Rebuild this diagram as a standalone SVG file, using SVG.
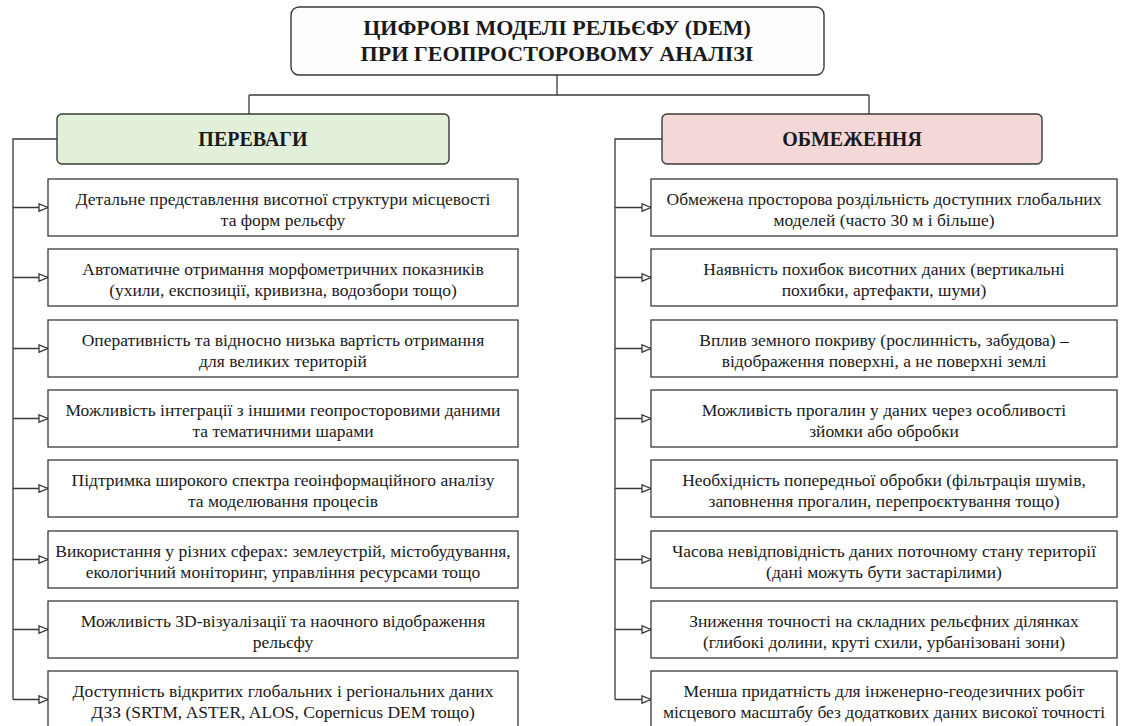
<svg xmlns="http://www.w3.org/2000/svg" width="1125" height="726" viewBox="0 0 1125 726">
<defs>
<style>
.bg{fill:#ffffff}
.title{fill:#fdfdfd;stroke:#3a3a3a;stroke-width:1.4}
.green{fill:#e2efd9;stroke:#3a3a3a;stroke-width:1.4}
.pink{fill:#f4d8d7;stroke:#3a3a3a;stroke-width:1.4}
.item{fill:#ffffff;stroke:#3a3a3a;stroke-width:1.3}
.ln{fill:none;stroke:#3a3a3a;stroke-width:1.3}
.arr{fill:none;stroke:#3a3a3a;stroke-width:1.3;marker-end:url(#tri)}
text{fill:#1a1a1a;text-anchor:middle}
.tt{font-size:22px;font-weight:bold}
.hd{font-size:20px;font-weight:bold}
.tx{font-size:17.5px}
</style>
<marker id="tri" markerUnits="userSpaceOnUse" markerWidth="11" markerHeight="10" refX="10" refY="4.5" orient="auto">
<path d="M1,0.8 L10,4.5 L1,8.2 Z" fill="#ffffff" stroke="#3a3a3a" stroke-width="1.3"/>
</marker>
</defs>
<rect class="bg" x="0" y="0" width="1125" height="726"/>

<g id="connectors">
<path class="ln" d="M557,75 V95 M249,95 H869 M249,95 V114 M869,95 V114"/>
<path class="ln" d="M57,139 H13 V699.5"/>
<path class="ln" d="M662,139 H615 V699.5"/>
<path class="arr" d="M13,207.5 H48"/>
<path class="arr" d="M13,277.5 H48"/>
<path class="arr" d="M13,348.5 H48"/>
<path class="arr" d="M13,418.5 H48"/>
<path class="arr" d="M13,488.5 H48"/>
<path class="arr" d="M13,559.5 H48"/>
<path class="arr" d="M13,629.5 H48"/>
<path class="arr" d="M13,699.5 H48"/>
<path class="arr" d="M615,207.5 H651"/>
<path class="arr" d="M615,277.5 H651"/>
<path class="arr" d="M615,348.5 H651"/>
<path class="arr" d="M615,418.5 H651"/>
<path class="arr" d="M615,488.5 H651"/>
<path class="arr" d="M615,559.5 H651"/>
<path class="arr" d="M615,629.5 H651"/>
<path class="arr" d="M615,699.5 H651"/>
</g>

<g font-family="'Liberation Serif', 'DejaVu Serif', 'Times New Roman', serif">
<g id="title">
<rect class="title" x="291" y="7" width="533" height="68" rx="8"/>
<text class="tt" x="557" y="35">ЦИФРОВІ МОДЕЛІ РЕЛЬЄФУ (DEM)</text>
<text class="tt" x="557" y="61">ПРИ ГЕОПРОСТОРОВОМУ АНАЛІЗІ</text>
</g>

<g id="advantages">
<rect class="green" x="57" y="114" width="392" height="50" rx="5"/>
<text class="hd" x="253" y="146">ПЕРЕВАГИ</text>
</g>
<g id="limitations">
<rect class="pink" x="662" y="114" width="380" height="50" rx="5"/>
<text class="hd" x="852" y="146">ОБМЕЖЕННЯ</text>
</g>

<g id="adv1"><rect class="item" x="48" y="179" width="470" height="57"/>
<text class="tx" x="283" y="205">Детальне представлення висотної структури місцевості</text><text class="tx" x="283" y="226">та форм рельєфу</text></g>
<g id="adv2"><rect class="item" x="48" y="249" width="470" height="57"/>
<text class="tx" x="283" y="275">Автоматичне отримання морфометричних показників</text><text class="tx" x="283" y="296">(ухили, експозиції, кривизна, водозбори тощо)</text></g>
<g id="adv3"><rect class="item" x="48" y="320" width="470" height="57"/>
<text class="tx" x="283" y="346">Оперативність та відносно низька вартість отримання</text><text class="tx" x="283" y="367">для великих територій</text></g>
<g id="adv4"><rect class="item" x="48" y="390" width="470" height="57"/>
<text class="tx" x="283" y="416">Можливість інтеграції з іншими геопросторовими даними</text><text class="tx" x="283" y="437">та тематичними шарами</text></g>
<g id="adv5"><rect class="item" x="48" y="460" width="470" height="57"/>
<text class="tx" x="283" y="486">Підтримка широкого спектра геоінформаційного аналізу</text><text class="tx" x="283" y="507">та моделювання процесів</text></g>
<g id="adv6"><rect class="item" x="48" y="531" width="470" height="57"/>
<text class="tx" x="283" y="557">Використання у різних сферах: землеустрій, містобудування,</text><text class="tx" x="283" y="578">екологічний моніторинг, управління ресурсами тощо</text></g>
<g id="adv7"><rect class="item" x="48" y="601" width="470" height="57"/>
<text class="tx" x="283" y="627">Можливість 3D-візуалізації та наочного відображення</text><text class="tx" x="283" y="648">рельєфу</text></g>
<g id="adv8"><rect class="item" x="48" y="671" width="470" height="57"/>
<text class="tx" x="283" y="697">Доступність відкритих глобальних і регіональних даних</text><text class="tx" x="283" y="718">ДЗЗ (SRTM, ASTER, ALOS, Copernicus DEM тощо)</text></g>

<g id="lim1"><rect class="item" x="651" y="179" width="466" height="57"/>
<text class="tx" x="884" y="205">Обмежена просторова роздільність доступних глобальних</text><text class="tx" x="884" y="226">моделей (часто 30 м і більше)</text></g>
<g id="lim2"><rect class="item" x="651" y="249" width="466" height="57"/>
<text class="tx" x="884" y="275">Наявність похибок висотних даних (вертикальні</text><text class="tx" x="884" y="296">похибки, артефакти, шуми)</text></g>
<g id="lim3"><rect class="item" x="651" y="320" width="466" height="57"/>
<text class="tx" x="884" y="346">Вплив земного покриву (рослинність, забудова) –</text><text class="tx" x="884" y="367">відображення поверхні, а не поверхні землі</text></g>
<g id="lim4"><rect class="item" x="651" y="390" width="466" height="57"/>
<text class="tx" x="884" y="416">Можливість прогалин у даних через особливості</text><text class="tx" x="884" y="437">зйомки або обробки</text></g>
<g id="lim5"><rect class="item" x="651" y="460" width="466" height="57"/>
<text class="tx" x="884" y="486">Необхідність попередньої обробки (фільтрація шумів,</text><text class="tx" x="884" y="507">заповнення прогалин, перепроєктування тощо)</text></g>
<g id="lim6"><rect class="item" x="651" y="531" width="466" height="57"/>
<text class="tx" x="884" y="557">Часова невідповідність даних поточному стану території</text><text class="tx" x="884" y="578">(дані можуть бути застарілими)</text></g>
<g id="lim7"><rect class="item" x="651" y="601" width="466" height="57"/>
<text class="tx" x="884" y="627">Зниження точності на складних рельєфних ділянках</text><text class="tx" x="884" y="648">(глибокі долини, круті схили, урбанізовані зони)</text></g>
<g id="lim8"><rect class="item" x="651" y="671" width="466" height="57"/>
<text class="tx" x="884" y="697">Менша придатність для інженерно-геодезичних робіт</text><text class="tx" x="884" y="718">місцевого масштабу без додаткових даних високої точності</text></g>
</g>
</svg>
